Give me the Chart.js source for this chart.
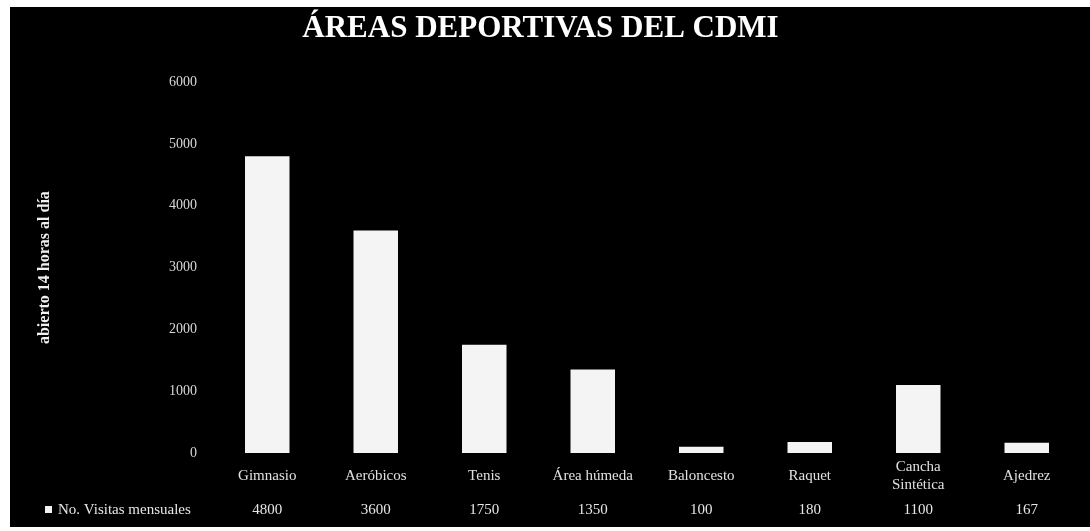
<!DOCTYPE html>
<html>
<head>
<meta charset="utf-8">
<script src="https://cdn.jsdelivr.net/npm/chart.js@4/dist/chart.umd.min.js"></script>
<style>
  html, body { margin: 0; padding: 0; background: #fff; }
  #wrap { width: 1090px; height: 531px; }
</style>
</head>
<body>
<div id="wrap"><canvas id="areasChart" width="1090" height="531"></canvas></div>
<script>
// Áreas deportivas del CDMI – visitas mensuales
const categories = ['Gimnasio', 'Aeróbicos', 'Tenis', 'Área húmeda', 'Baloncesto', 'Raquet', ['Cancha', 'Sintética'], 'Ajedrez'];
const visitas = [4800, 3600, 1750, 1350, 100, 180, 1100, 167];
const tablaValores = ['4800', '3600', '1750', '1350', '100', '180', '1100', '167'];
const serieNombre = 'No. Visitas mensuales';

const serif = "'Liberation Serif', 'DejaVu Serif', serif";

// black "scanned" panel behind everything
const fondo = {
  id: 'fondo',
  beforeDraw(chart) {
    const ctx = chart.ctx;
    ctx.save();
    ctx.fillStyle = '#000';
    ctx.fillRect(10, 7, chart.width - 10, chart.height - 11);
    ctx.restore();
  }
};

// data table row under the category labels
const tablaDatos = {
  id: 'tablaDatos',
  afterDraw(chart) {
    const ctx = chart.ctx;
    const x = chart.scales.x;
    const y = 510;
    ctx.save();
    ctx.font = '15px ' + serif;
    ctx.fillStyle = '#e6e6e6';
    ctx.textBaseline = 'middle';
    ctx.textAlign = 'center';
    tablaValores.forEach((v, i) => {
      ctx.fillText(v, x.getPixelForValue(i), y);
    });
    ctx.fillStyle = '#f2f2f2';
    ctx.fillRect(45, y - 4, 7, 7);
    ctx.fillStyle = '#e6e6e6';
    ctx.textAlign = 'left';
    ctx.fillText(serieNombre, 58, y);
    ctx.restore();
  }
};

new Chart(document.getElementById('areasChart'), {
  type: 'bar',
  data: {
    labels: categories,
    datasets: [{
      label: serieNombre,
      data: visitas,
      backgroundColor: '#f4f4f4',
      borderWidth: 0,
      categoryPercentage: 1,
      barPercentage: 0.41
    }]
  },
  options: {
    responsive: false,
    animation: false,
    layout: { padding: { left: 0, right: 9, top: 0, bottom: 0 } },
    plugins: {
      legend: { display: false },
      tooltip: { enabled: false },
      title: {
        display: true,
        text: 'ÁREAS DEPORTIVAS DEL CDMI',
        color: '#ffffff',
        font: { family: serif, size: 31, weight: 'bold' },
        padding: { top: 10, bottom: 35 }
      }
    },
    scales: {
      x: {
        grid: { display: false, drawTicks: false },
        border: { display: false },
        ticks: {
          color: '#e0e0e0',
          font: { family: serif, size: 15 },
          padding: 14,
          crossAlign: 'center',
          maxRotation: 0,
          autoSkip: false
        },
        afterFit(scale) { scale.height = 78; }
      },
      y: {
        min: 0,
        max: 6000,
        grid: { display: false, drawTicks: false },
        border: { display: false },
        ticks: {
          stepSize: 1000,
          color: '#d8d8d8',
          font: { family: serif, size: 14 },
          padding: 16,
          callback: v => String(v)
        },
        title: {
          display: true,
          text: 'abierto 14 horas al día',
          color: '#f0f0f0',
          font: { family: serif, size: 16, weight: 'bold' },
          padding: { top: 35, bottom: 0 }
        },
        afterFit(scale) { scale.width = 213; }
      }
    }
  },
  plugins: [fondo, tablaDatos]
});
</script>
</body>
</html>
